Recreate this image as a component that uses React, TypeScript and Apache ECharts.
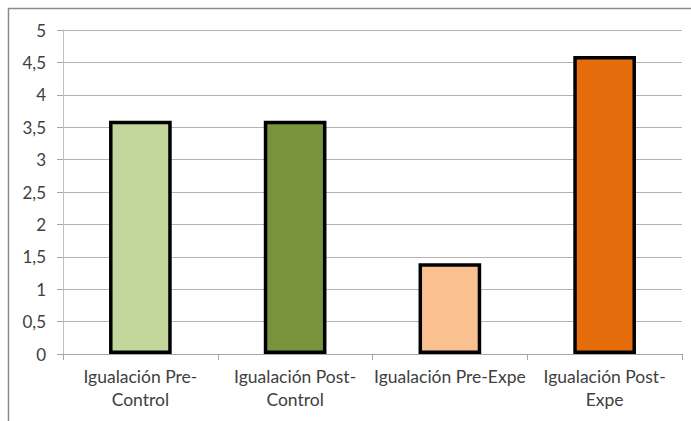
import React, { useEffect, useRef } from "react";
import * as echarts from "echarts";

const categories = [
  "Igualación Pre-\nControl",
  "Igualación Post-\nControl",
  "Igualación Pre-Expe",
  "Igualación Post-\nExpe",
];
const values = [3.6, 3.6, 1.4, 4.6];
const barColors = ["#C3D69B", "#77933C", "#FAC090", "#E46C0A"];
const yTicks = [0, 0.5, 1, 1.5, 2, 2.5, 3, 3.5, 4, 4.5, 5];

const FONT = "Lato, 'Open Sans', sans-serif";

export default function App() {
  const ref = useRef<HTMLDivElement>(null);

  useEffect(() => {
    if (!ref.current) return;
    const chart = echarts.init(ref.current, undefined, { renderer: "svg" });
    chart.setOption({
      animation: false,
      backgroundColor: "#ffffff",
      textStyle: { fontFamily: FONT },
      grid: { left: 63, top: 30, right: 9, bottom: 67, containLabel: false },
      graphic: [
        {
          type: "rect",
          shape: { x: 8.5, y: 8.5, width: 720, height: 440 },
          style: { fill: "none", stroke: "#8c8c8c", lineWidth: 1.5 },
          silent: true,
        },
      ],
      xAxis: {
        type: "category",
        data: categories,
        boundaryGap: true,
        axisLine: { show: true, lineStyle: { color: "#a6a6a6", width: 1 } },
        axisTick: { show: true, length: 6, lineStyle: { color: "#a6a6a6" } },
        axisLabel: {
          interval: 0,
          margin: 11,
          fontSize: 17.5,
          lineHeight: 23,
          color: "#404040",
          fontFamily: FONT,
        },
      },
      yAxis: {
        type: "value",
        min: yTicks[0],
        max: yTicks[yTicks.length - 1],
        interval: 0.5,
        axisLine: { show: true, lineStyle: { color: "#bfbfbf", width: 1 } },
        axisTick: { show: true, length: 6, lineStyle: { color: "#a6a6a6" } },
        splitLine: { show: true, lineStyle: { color: "#b4b4b4", width: 1 } },
        axisLabel: {
          margin: 17,
          fontSize: 17,
          color: "#404040",
          fontFamily: FONT,
          formatter: (v: number) => String(v).replace(".", ","),
        },
      },
      series: [
        {
          type: "bar",
          barWidth: "40.5%",
          data: values.map((v, i) => ({
            value: v,
            itemStyle: {
              color: barColors[i],
              borderColor: "#000000",
              borderWidth: 3.5,
            },
          })),
        },
      ],
    });
    return () => chart.dispose();
  }, []);

  return (
    <div
      ref={ref}
      style={{ position: "fixed", left: 0, top: 0, width: 691, height: 421 }}
    />
  );
}
